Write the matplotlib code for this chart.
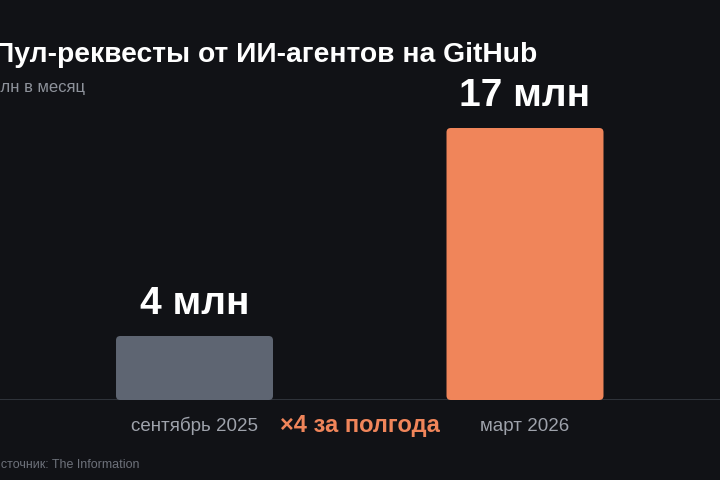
import matplotlib
matplotlib.use("Agg")
import matplotlib.pyplot as plt
from matplotlib.patches import FancyBboxPatch
import matplotlib.transforms as mtransforms

# Data
categories = ["сентябрь 2025", "март 2026"]
values = [4, 17]
value_labels = ["4 млн", "17 млн"]
bar_colors = ["#5e6572", "#f0855a"]
title = "Пул-реквесты от ИИ-агентов на GitHub"
subtitle = "млн в месяц"
source = "Источник: The Information"
growth_note = "×4 за полгода"

BG = "#111216"
W, H = 720, 480

fig = plt.figure(figsize=(7.2, 4.8), dpi=100, facecolor=BG)
ax = fig.add_axes([0, 80 / H, 1, 360 / H])
ax.set_facecolor(BG)

x = list(range(len(categories)))
bw = 0.475
bars = ax.bar(x, values, width=bw, color=bar_colors, zorder=3)
ax.set_xlim(-0.5885, 1.590)
ax.set_ylim(0, 22.5)

# replace with rounded bars
for b, c in zip(bars, bar_colors):
    b.set_visible(False)
    fb = FancyBboxPatch((b.get_x(), b.get_y()), b.get_width(), b.get_height(),
                        boxstyle="round,pad=0,rounding_size=0.013",
                        mutation_aspect=20.5, facecolor=c, edgecolor="none", zorder=3)
    ax.add_patch(fb)

for xi, v, lab in zip(x, values, value_labels):
    ax.annotate(lab, (xi, v), xytext=(0, 15.5), textcoords="offset points",
                ha="center", va="baseline", fontsize=28, fontweight="bold",
                color="white", family=["Liberation Sans", "DejaVu Sans"])

for s in ax.spines.values():
    s.set_visible(False)
ax.axhline(0, color="#3a3e47", lw=1.8, zorder=2)
ax.set_xticks([])
ax.set_yticks([])

sans = ["Liberation Sans", "DejaVu Sans"]
trans = mtransforms.blended_transform_factory(ax.transData, fig.transFigure)
for xi, cat in zip(x, categories):
    ax.text(xi, 1 - 431 / H, cat, transform=trans, ha="center", va="baseline",
            fontsize=13.5, color="#9ea2ab", family=sans)

ax.text(0.5, 1 - 432 / H, growth_note, transform=trans, ha="center", va="baseline",
        fontsize=17, fontweight="bold", color="#f0855a", family=sans)

fig.text(537 / W, 1 - 62 / H, title, ha="right", va="baseline", fontsize=20.3,
         fontweight="bold", color="white", family=sans)
fig.text(85 / W, 1 - 92 / H, subtitle, ha="right", va="baseline", fontsize=12,
         color="#8e929b", family=sans)
fig.text(139 / W, 1 - 465 / H, source, ha="right", va="center", fontsize=9,
         color="#6d717a", family=sans)

fig.savefig("out.png", dpi=100, facecolor=BG)
